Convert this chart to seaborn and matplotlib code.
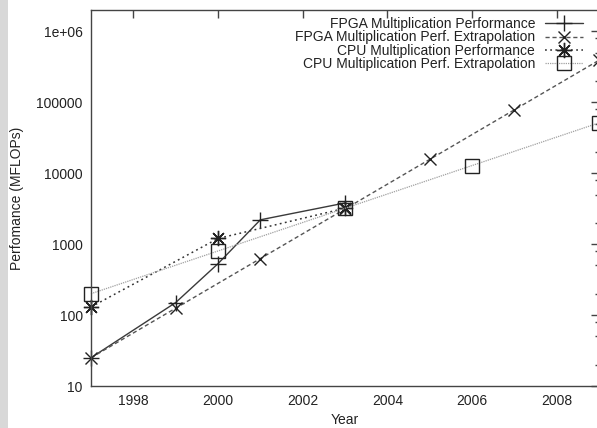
import matplotlib
matplotlib.use("Agg")
import matplotlib.pyplot as plt
import matplotlib.ticker as mticker
from matplotlib.patches import Rectangle
import seaborn as sns
import pandas as pd

# ---- data ----
fpga_years = [1997, 1999, 2000, 2001, 2003]
fpga_perf = [25, 150, 530, 2200, 3800]

fpga_ext_years = [1997, 1999, 2001, 2003, 2005, 2007, 2009]
fpga_ext_perf = [25, 125, 625, 3125, 15625, 78125, 390625]

cpu_years = [1997, 2000, 2003]
cpu_perf = [130, 1200, 3200]

cpu_ext_years = [1997, 2000, 2003, 2006, 2009]
cpu_ext_perf = [200, 800, 3200, 12800, 51200]

labels = ["FPGA Multiplication Performance",
          "FPGA Multiplication Perf. Extrapolation",
          "CPU Multiplication Performance",
          "CPU Multiplication Perf. Extrapolation"]

x_ticks = [1998, 2000, 2002, 2004, 2006, 2008]
y_ticks = [10, 100, 1000, 10000, 100000, 1000000]
y_tick_labels = ["10", "100", "1000", "10000", "100000", "1e+06"]

sns.set_theme(style="white")
plt.rcParams["font.family"] = ["Liberation Sans", "DejaVu Sans"]
plt.rcParams["text.color"] = "#222222"
plt.rcParams["axes.labelcolor"] = "#222222"
plt.rcParams["xtick.color"] = "#222222"
plt.rcParams["ytick.color"] = "#222222"

fig = plt.figure(figsize=(5.97, 4.28), dpi=100)
ax = fig.add_axes([91 / 597, 42 / 428, (599 - 91) / 597, (386 - 10) / 428])

fig.patches.append(Rectangle((0, 0), 8 / 597, 1, transform=fig.transFigure,
                             facecolor="#d8d8d8", edgecolor="none", zorder=0))

series = [
    (fpga_years, fpga_perf, dict(color="#3a3a3a", linestyle="-", marker="+",
                                 markersize=12, linewidth=1.0)),
    (fpga_ext_years, fpga_ext_perf, dict(color="#555555", linestyle=(0, (3, 2)),
                                         marker="x", markersize=9, linewidth=1.0)),
    (cpu_years, cpu_perf, dict(color="#333333", linestyle=(0, (1.2, 2.2)),
                               marker=(8, 2, 0), markersize=11, linewidth=1.1)),
    (cpu_ext_years, cpu_ext_perf, dict(color="#a0a0a0", linestyle=(0, (1, 0.8)),
                                       marker="s", markersize=10, linewidth=0.9)),
]

for (xs, ys, st), lab in zip(series, labels):
    df = pd.DataFrame({"Year": xs, "Perf": ys})
    sns.lineplot(data=df, x="Year", y="Perf", ax=ax, label=lab,
                 color=st["color"], linestyle=st["linestyle"], marker=st["marker"],
                 markersize=st["markersize"], linewidth=st["linewidth"],
                 markeredgecolor="#222222", markerfacecolor="none",
                 markeredgewidth=1.0, clip_on=False, errorbar=None)

ax.set_yscale("log")
ax.set_xlim(1997, 2009)
ax.set_ylim(10, 10 ** 6.3)
ax.set_xticks(x_ticks)
ax.set_xticklabels([str(t) for t in x_ticks])
ax.xaxis.set_minor_locator(mticker.NullLocator())
ax.yaxis.set_major_locator(mticker.FixedLocator(y_ticks))
ax.yaxis.set_major_formatter(mticker.FixedFormatter(y_tick_labels))
ax.yaxis.set_minor_locator(mticker.LogLocator(base=10, subs=[2, 5, 8]))
ax.yaxis.set_minor_formatter(mticker.NullFormatter())

ax.tick_params(axis="both", which="major", direction="in", length=6, width=1,
               top=True, right=True, labelsize=10, color="#444444")
ax.tick_params(axis="y", which="major", pad=6)
ax.tick_params(axis="x", which="major", pad=6)
ax.tick_params(axis="y", which="minor", direction="in", length=3, width=1,
               right=True, color="#444444")
for sp in ax.spines.values():
    sp.set_color("#444444")
    sp.set_linewidth(1.0)

ax.set_xlabel("Year", fontsize=10, labelpad=3)
ax.set_ylabel("Perfomance (MFLOPs)", fontsize=10, labelpad=9)

handles, labs = ax.get_legend_handles_labels()
ax.legend(handles, labs, loc="upper right", frameon=False, markerfirst=False,
          bbox_to_anchor=(583 / 597, 1 - 17 / 428), bbox_transform=fig.transFigure,
          borderpad=0, borderaxespad=0, handlelength=2.75, handletextpad=0.7,
          labelspacing=-0.04, fontsize=10)

fig.savefig("out.png", dpi=100)
